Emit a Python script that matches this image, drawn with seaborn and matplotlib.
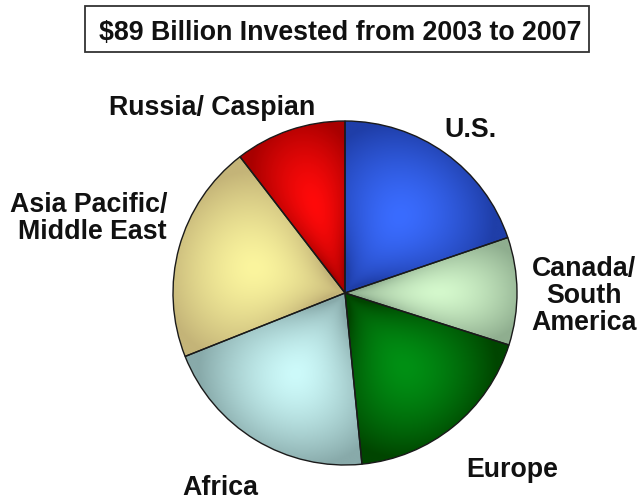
import numpy as np
import matplotlib
matplotlib.use("Agg")
import matplotlib.pyplot as plt
from matplotlib.colors import to_rgb
from matplotlib.patches import Rectangle
import seaborn as sns

# Investment by region, $ billions (2003-2007), clockwise from 12 o'clock
regions = ["U.S.", "Canada/\nSouth\nAmerica", "Europe", "Africa",
           "Asia Pacific/\nMiddle East", "Russia/ Caspian"]
invested = [17.6, 9.0, 16.5, 18.3, 18.3, 9.3]
title = "$89 Billion Invested from 2003 to 2007"

# bright centre / darker rim colour for each slice
light_cols = ["#3a6cff", "#d4f8cc", "#009014", "#cdfafa", "#fbf59e", "#ff0a0a"]
dark_cols = ["#1f3ea8", "#8fae8f", "#004500", "#88aaaa", "#c4b478", "#a80000"]

# label anchors: (x px, last-line baseline px from top, horizontal alignment)
label_pos = [(470, 137, "center"), (584, 330, "center"), (512, 477, "center"),
             (220, 495, "center"), (167, 239, "right"), (212, 115, "center")]

sns.set_theme(style="white")
plt.rcParams["font.family"] = ["Liberation Sans", "DejaVu Sans"]

W, H = 643, 500
fig = plt.figure(figsize=(W / 100, H / 100), dpi=100)

# pie axes: slightly wider than tall
cx, cy, rx, ry = 345, 293, 180, 172
ax = fig.add_axes([(cx - rx) / W, (H - cy - ry) / H, 2 * rx / W, 2 * ry / H])

wedges, _ = ax.pie(invested, startangle=90, counterclock=False, radius=1,
                   colors=light_cols,
                   wedgeprops=dict(edgecolor="#1a1a1a", linewidth=1.0))
ax.set_xlim(-1, 1)
ax.set_ylim(-1, 1)
ax.set_aspect("auto")
ax.axis("off")

# shaded fill inside each wedge: light near the slice middle, darker at the rims
n = 600
gx, gy = np.meshgrid(np.linspace(-1, 1, n), np.linspace(-1, 1, n))
rr = np.hypot(gx, gy)
aa = np.degrees(np.arctan2(gy, gx))
for w, lc, dc in zip(wedges, light_cols, dark_cols):
    t1, t2 = w.theta1, w.theta2
    mid = 0.5 * (t1 + t2)
    half = 0.5 * (t2 - t1)
    dang = np.abs((aa - mid + 180) % 360 - 180) / half
    drad = np.abs(rr - 0.55) / 0.45
    f = np.clip(np.sqrt(0.55 * dang ** 2 + 0.75 * drad ** 2), 0, 1) ** 1.6
    lc_, dc_ = np.array(to_rgb(lc)), np.array(to_rgb(dc))
    img = lc_[None, None, :] * (1 - f[..., None]) + dc_[None, None, :] * f[..., None]
    im = ax.imshow(img, extent=(-1, 1, -1, 1), origin="lower",
                   interpolation="bilinear", zorder=w.get_zorder() + 0.1)
    im.set_clip_path(w)
    w.set_facecolor("none")
    w.set_zorder(w.get_zorder() + 0.2)

# slice labels
for lab, (px, py, ha) in zip(regions, label_pos):
    fig.text(px / W, 1 - py / H, lab, ha=ha, va="baseline",
             multialignment=ha, fontsize=19.3, fontweight="bold",
             color="#111111", linespacing=1.06)

# boxed title
fig.patches.append(Rectangle((85 / W, 1 - 52 / H), (589 - 85) / W, 46 / H,
                             transform=fig.transFigure, facecolor="white",
                             edgecolor="#333333", linewidth=1.3))
fig.text(340 / W, 1 - 40 / H, title, ha="center", va="baseline",
         fontsize=19.3, fontweight="bold", color="#111111")

fig.savefig("out.png", dpi=100, facecolor="white")
